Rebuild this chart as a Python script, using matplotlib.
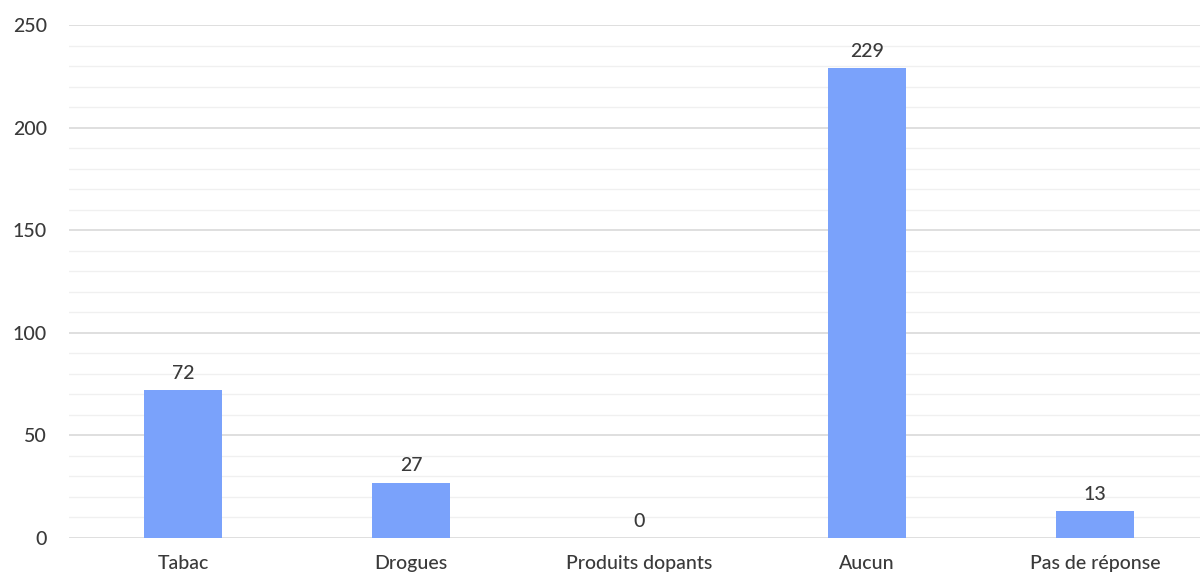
import matplotlib.pyplot as plt
from matplotlib.ticker import MultipleLocator

# --- Data ---
categories = ["Tabac", "Drogues", "Produits dopants", "Aucun", "Pas de réponse"]
values = [72, 27, 0, 229, 13]

BAR_COLOR = "#7aa2fb"
TEXT_COLOR = "#3a3a3a"

plt.rcParams["font.family"] = ["Lato", "DejaVu Sans"]

fig = plt.figure(figsize=(12, 5.78), dpi=100)
ax = fig.add_axes([69 / 1200, 1 - 538 / 578, 1140 / 1200, 513 / 578])

x = range(len(categories))
ax.bar(x, values, width=0.34, color=BAR_COLOR, zorder=3)

for xi, v in zip(x, values):
    ax.annotate(str(v), xy=(xi, v), xytext=(0, 6), textcoords="offset points",
                ha="center", va="bottom", fontsize=14, color=TEXT_COLOR,
                fontweight="medium")

ax.set_xlim(-0.5, len(categories) - 0.5)
ax.set_ylim(0, 250)
ax.yaxis.set_major_locator(MultipleLocator(50))
ax.yaxis.set_minor_locator(MultipleLocator(10))
ax.grid(True, which="major", axis="y", color="#d9d9d9", linewidth=1.2, zorder=0)
ax.grid(True, which="minor", axis="y", color="#f0f0f0", linewidth=1.0, zorder=0)

ax.set_xticks(list(x))
ax.set_xticklabels(categories, fontweight="medium")
for lbl in ax.get_yticklabels():
    lbl.set_fontweight("medium")
ax.tick_params(axis="both", which="both", length=0, labelsize=14, colors=TEXT_COLOR)
ax.tick_params(axis="x", pad=12)
ax.tick_params(axis="y", pad=16)

for s in ax.spines.values():
    s.set_visible(False)

fig.savefig("out.png", dpi=100)
